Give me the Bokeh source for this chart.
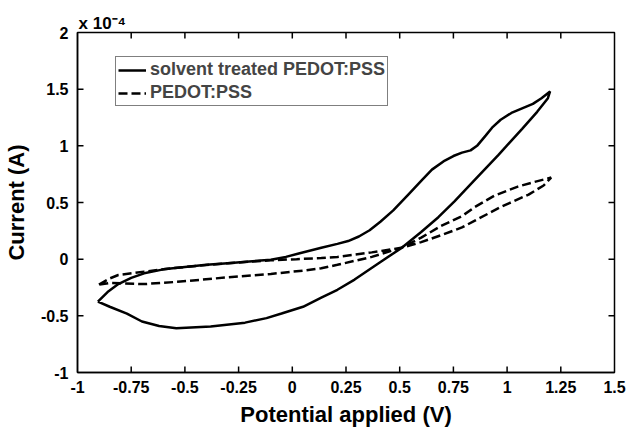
from bokeh.plotting import figure
from bokeh.models import Range1d, FixedTicker, Legend, LegendItem, CustomJSTickFormatter, Title
from bokeh.embed import file_html
from bokeh.resources import INLINE

# ---- data (current in units of 1e-4 A) ----
solvent_v = [-0.905, -0.86, -0.81, -0.75, -0.69, -0.6, -0.5, -0.4, -0.3, -0.2, -0.1, -0.03,
             0.03, 0.135, 0.21, 0.26, 0.31, 0.36, 0.41, 0.47, 0.54, 0.6, 0.65, 0.71, 0.75, 0.79,
             0.83, 0.86, 0.9, 0.93, 0.97, 1.02, 1.07, 1.12, 1.16, 1.20,
             1.19, 1.14, 1.07, 0.96, 0.845, 0.755, 0.68, 0.60, 0.507, 0.414, 0.29,
             0.21, 0.135, 0.05, -0.05, -0.12, -0.22, -0.38, -0.54, -0.62, -0.70, -0.77,
             -0.85, -0.905]
solvent_i = [-0.375, -0.29, -0.22, -0.165, -0.125, -0.09, -0.07, -0.05, -0.035, -0.02, -0.005,
             0.02, 0.05, 0.10, 0.135, 0.16, 0.20, 0.255, 0.33, 0.43, 0.57, 0.69, 0.79, 0.87,
             0.91, 0.94, 0.96, 1.0, 1.09, 1.16, 1.23, 1.29, 1.33, 1.37, 1.42, 1.48,
             1.42, 1.30, 1.15, 0.92, 0.69, 0.51, 0.37, 0.24, 0.097, -0.02, -0.18,
             -0.27, -0.34, -0.42, -0.48, -0.52, -0.56, -0.595, -0.61, -0.59, -0.55, -0.48,
             -0.42, -0.375]

pedot_v = [-0.9, -0.85, -0.81, -0.69, -0.535, -0.3, -0.1, 0.02, 0.135, 0.21, 0.37, 0.507,
           0.6, 0.69, 0.79, 0.85, 0.97, 1.10, 1.17, 1.205,
           1.125, 1.05, 0.94, 0.85, 0.79, 0.69, 0.6, 0.507,
           0.37, 0.21, 0.135, 0.056, -0.1, -0.3, -0.535, -0.69, -0.85, -0.9]
pedot_i = [-0.225, -0.17, -0.14, -0.11, -0.075, -0.035, -0.01, 0.0, 0.01, 0.02, 0.06, 0.10,
           0.15, 0.21, 0.28, 0.34, 0.46, 0.57, 0.65, 0.72,
           0.68, 0.64, 0.56, 0.46, 0.38, 0.29, 0.19, 0.10,
           0.02, -0.05, -0.08, -0.10, -0.13, -0.16, -0.20, -0.22, -0.21, -0.225]

x_ticks = [-1, -0.75, -0.5, -0.25, 0, 0.25, 0.5, 0.75, 1, 1.25, 1.5]
y_ticks = [-1, -0.5, 0, 0.5, 1, 1.5, 2]
series_labels = ["solvent treated PEDOT:PSS", "PEDOT:PSS"]
scale_text = "x 10\u207b\u2074"

FONT = "Liberation Sans"
W, H = 632, 429
BL, BR, BT, BB = 76, 18, 32, 56

x0, x1 = x_ticks[0], x_ticks[-1]
y0, y1 = y_ticks[0], y_ticks[-1]

p = figure(width=W, height=H, output_backend="svg", toolbar_location=None,
           x_range=Range1d(x0, x1), y_range=Range1d(y0, y1),
           min_border_left=BL, min_border_right=BR, min_border_top=BT,
           min_border_bottom=BB, x_axis_label="Potential applied (V)",
           y_axis_label="Current (A)")
p.background_fill_color = "white"
p.border_fill_color = "white"
p.grid.visible = False
p.outline_line_color = "black"
p.outline_line_width = 1.5

fmt = CustomJSTickFormatter(code="return String(tick);")
for ax, ticks in ((p.xaxis[0], x_ticks), (p.yaxis[0], y_ticks)):
    ax.ticker = FixedTicker(ticks=ticks)
    ax.formatter = fmt
    ax.major_tick_in = 0
    ax.major_tick_out = 0
    ax.minor_tick_line_color = None
    ax.axis_line_width = 1.5
    ax.major_label_text_font = FONT
    ax.major_label_text_font_style = "bold"
    ax.major_label_text_font_size = "16px"
    ax.major_label_text_color = "black"
    ax.axis_label_text_font = FONT
    ax.axis_label_text_font_style = "bold"
    ax.axis_label_text_font_size = "22px"
    ax.axis_label_text_color = "black"
p.xaxis[0].major_label_standoff = 8
p.xaxis[0].axis_label_standoff = 6
p.yaxis[0].major_label_standoff = 9
p.yaxis[0].axis_label_standoff = 9

# inward tick marks on all four sides (screen-length rays from the frame edges)
inner_x = x_ticks[1:-1]
inner_y = y_ticks[1:-1]
nx, ny = len(inner_x), len(inner_y)
p.ray(x=inner_x * 2, y=[y0] * nx + [y1] * nx, length=6, length_units="screen",
      angle=[1.5707963] * nx + [-1.5707963] * nx, line_color="black", line_width=1.5)
p.ray(x=[x0] * ny + [x1] * ny, y=inner_y * 2, length=6, length_units="screen",
      angle=[0.0] * ny + [3.1415927] * ny, line_color="black", line_width=1.5)

r1 = p.line(solvent_v, solvent_i, line_color="black", line_width=2.5)
r2 = p.line(pedot_v, pedot_i, line_color="black", line_width=2.5, line_dash="9 4")

legend = Legend(items=[LegendItem(label=series_labels[0], renderers=[r1]),
                       LegendItem(label=series_labels[1], renderers=[r2])],
                location=(38, 266), orientation="vertical")
legend.border_line_color = "black"
legend.border_line_width = 1
legend.background_fill_alpha = 1
legend.label_text_font = FONT
legend.label_text_font_style = "bold"
legend.label_text_font_size = "18px"
legend.glyph_width = 28
legend.glyph_height = 20
legend.label_height = 21
legend.label_standoff = 4
legend.spacing = 2
legend.padding = 2
legend.margin = 0
p.add_layout(legend)

p.title = Title(text=scale_text, align="left", offset=1, standoff=0,
                text_font=FONT, text_font_style="bold", text_font_size="17px",
                text_color="black", vertical_align="bottom")

open("out.html", "w").write(file_html(p, INLINE))
